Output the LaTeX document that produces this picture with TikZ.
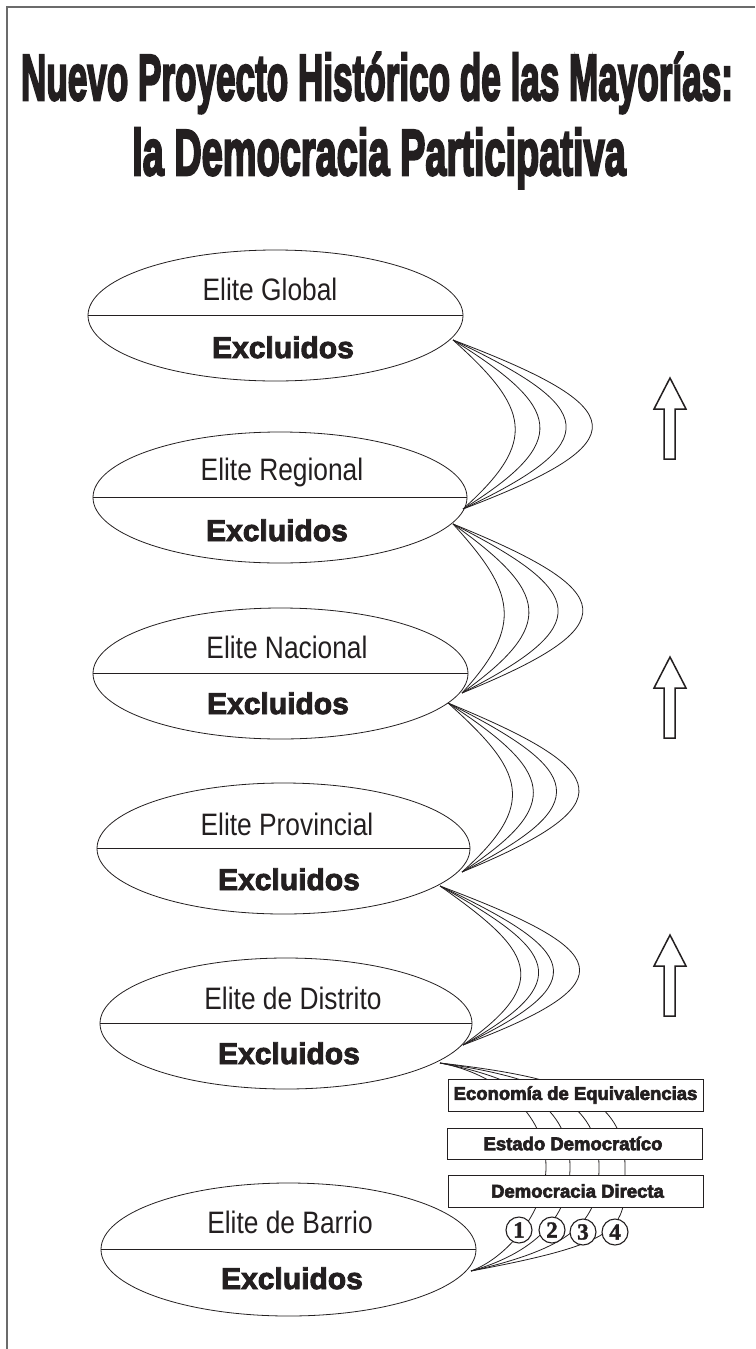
\documentclass[tikz,border=0pt]{standalone}
\usepackage{fontspec}
\usepackage{graphicx}
\usetikzlibrary{shapes.geometric}
\newfontfamily\titlefont{Liberation Sans}[BoldFeatures={FakeBold=4}]
\newfontfamily\boxfont{Liberation Sans}[BoldFeatures={FakeBold=3.5}]
\newfontfamily\elitefont{Liberation Sans}
\newfontfamily\exclfont{Liberation Sans}[BoldFeatures={FakeBold=3}]
\newfontfamily\numfont{Liberation Serif}[BoldFeatures={FakeBold=1.5}]
\definecolor{ink}{HTML}{231F20}
\definecolor{framec}{HTML}{6B6B6B}
\begin{document}
\begin{tikzpicture}[x=1pt,y=-1pt,
  lev/.style={draw=ink, ellipse, inner sep=0pt, line width=0.8pt},
  elitetext/.style={anchor=base, text=ink, font=\elitefont\fontsize{31}{31}\selectfont},
  excltext/.style={anchor=base, text=ink, font=\exclfont\bfseries\fontsize{30}{30}\selectfont},
  link/.style={draw=ink, line width=0.8pt},
  optbox/.style={draw=ink, fill=white, line width=1pt, inner sep=0pt, minimum width=255pt, minimum height=32pt},
  boxtext/.style={font=\boxfont\bfseries\fontsize{18.5}{18.5}\selectfont, text=ink},
  numc/.style={circle, draw=ink, fill=white, line width=1.1pt, minimum size=26pt, inner sep=0pt, font=\numfont\bfseries\fontsize{23}{23}\selectfont, text=ink},
  uparrow/.style={draw=ink, line width=1.5pt, fill=white, line join=miter}
]
\useasboundingbox (0,0) rectangle (755,1349);
% frame
\draw[framec, line width=2pt] (755,7) -- (7,7) -- (7,1349);
% title
\node[anchor=base, text=ink, font=\titlefont\bfseries\fontsize{65}{65}\selectfont] (t1) at (377,100)
  {\scalebox{0.54}[1]{Nuevo Proyecto Histórico de las Mayorías:}};
\node[anchor=base, text=ink, font=\titlefont\bfseries\fontsize{65}{65}\selectfont] (t2) at (379,175)
  {\scalebox{0.584}[1]{la Democracia Participativa}};
% ellipses
\node[lev, minimum width=375pt, minimum height=131pt] (g) at (275.5,315.5) {};
\node[lev, minimum width=374pt, minimum height=131pt] (r) at (280,497.5) {};
\node[lev, minimum width=375pt, minimum height=131pt] (n) at (280.5,673.5) {};
\node[lev, minimum width=373pt, minimum height=131pt] (p) at (283.5,848.5) {};
\node[lev, minimum width=372pt, minimum height=131pt] (d) at (286,1023.5) {};
\node[lev, minimum width=375pt, minimum height=133pt] (b) at (288.5,1249.5) {};
\foreach \e in {g,r,n,p,d,b} \draw[link] (\e.west) -- (\e.east);
% texts
\node[elitetext] (gt) at (270,300) {\scalebox{0.85}[1]{Elite Global}};
\node[excltext] (gx) at (283,358) {Excluidos};
\node[elitetext] (rt) at (282,480) {\scalebox{0.85}[1]{Elite Regional}};
\node[excltext] (rx) at (277,541) {Excluidos};
\node[elitetext] (nt) at (287,658) {\scalebox{0.85}[1]{Elite Nacional}};
\node[excltext] (nx) at (278,714) {Excluidos};
\node[elitetext] (pt) at (287,835) {\scalebox{0.85}[1]{Elite Provincial}};
\node[excltext] (px) at (289,890) {Excluidos};
\node[elitetext] (dt) at (293,1009) {\scalebox{0.85}[1]{Elite de Distrito}};
\node[excltext] (dx) at (289,1064) {Excluidos};
\node[elitetext] (bt) at (290,1233) {\scalebox{0.85}[1]{Elite de Barrio}};
\node[excltext] (bx) at (292,1289) {Excluidos};
% connector end points
\coordinate (gA) at (453,340); \coordinate (rB) at (463,509);
\coordinate (rA) at (453,524); \coordinate (nB) at (462,693);
\coordinate (nA) at (448,703); \coordinate (pB) at (462,872);
\coordinate (pA) at (440,886); \coordinate (dB) at (463,1045);
\coordinate (dA) at (440,1063); \coordinate (bB) at (471,1271);
\foreach \dd in {76,109,144,179} \draw[link] (gA) .. controls +(\dd,68) and +(\dd,-68) .. (rB);
\foreach \dd in {62,95,134,167} \draw[link] (rA) .. controls +(\dd,68) and +(\dd,-68) .. (nB);
\foreach \dd in {76,104,135,165} \draw[link] (nA) .. controls +(\dd,68) and +(\dd,-68) .. (pB);
\foreach \dd in {91,115,135,170} \draw[link] (pA) .. controls +(\dd,64) and +(\dd,-64) .. (dB);
% lower fan
\coordinate (m1) at (546,1167); \coordinate (m2) at (570,1167);
\coordinate (m3) at (599,1167); \coordinate (m4) at (625,1167);
\draw[link] (dA) .. controls +(55,10) and +(0,-55) .. (m1) .. controls +(0,40) and +(40,-15) .. (bB);
\draw[link] (dA) .. controls +(80,15) and +(0,-60) .. (m2) .. controls +(0,45) and +(70,-20) .. (bB);
\draw[link] (dA) .. controls +(105,15) and +(0,-65) .. (m3) .. controls +(0,50) and +(110,-25) .. (bB);
\draw[link] (dA) .. controls +(130,15) and +(0,-70) .. (m4) .. controls +(0,60) and +(160,-30) .. (bB);
% boxes
\node[optbox] (b1) at (575.5,1095) {};
\node[boxtext] at (b1.center) {Economía de Equivalencias};
\node[optbox, minimum height=31pt] (b2) at (575,1143.5) {};
\node[boxtext] at ([xshift=-2pt]b2.center) {Estado Democratíco};
\node[optbox] (b3) at (575.5,1191) {};
\node[boxtext] at ([xshift=2pt]b3.center) {Democracia Directa};
% numbered circles
\node[numc] (c1) at (519,1230) {1};
\node[numc] (c2) at (552,1230) {2};
\node[numc] (c3) at (583,1232) {3};
\node[numc] (c4) at (615,1232) {4};
% up arrows
\foreach \sh in {0,279,557} {
  \draw[uparrow] (670,378+\sh) -- (686,409+\sh) -- (675,409+\sh) -- (675,459+\sh)
    -- (664,459+\sh) -- (664,409+\sh) -- (654,409+\sh) -- cycle;
}
\end{tikzpicture}
\end{document}
